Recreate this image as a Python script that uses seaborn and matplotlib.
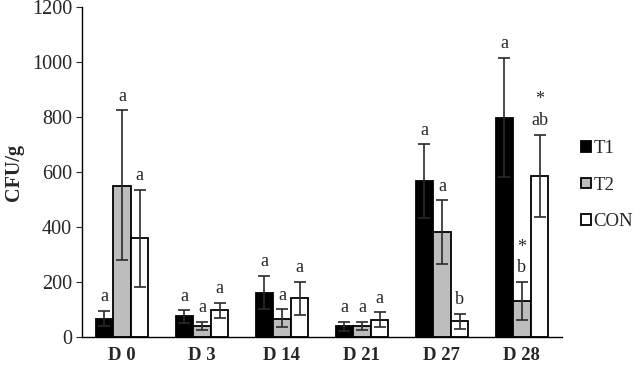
import numpy as np
import pandas as pd
import matplotlib
matplotlib.use('Agg')
import matplotlib.pyplot as plt
import seaborn as sns

# Data
days = ['D 0', 'D 3', 'D 14', 'D 21', 'D 27', 'D 28']
groups = ['T1', 'T2', 'CON']
t1 = [65, 75, 160, 38, 567, 797]
t2 = [550, 40, 65, 40, 380, 130]
con = [360, 97, 140, 62, 57, 585]
# error bar lower / upper ends
t1_lo = [40, 50, 100, 22, 433, 580]
t1_hi = [95, 97, 222, 55, 700, 1015]
t2_lo = [280, 25, 35, 25, 265, 60]
t2_hi = [825, 55, 100, 55, 497, 200]
con_lo = [180, 70, 80, 35, 30, 437]
con_hi = [535, 125, 200, 90, 85, 735]
# significance letters
t1_let = ['a', 'a', 'a', 'a', 'a', 'a']
t2_let = ['a', 'a', 'a', 'a', 'a', '*\nb']
con_let = ['a', 'a', 'a', 'a', 'b', '*\nab']

df = pd.DataFrame({
    'Day': days * 3,
    'Group': [g for g in groups for _ in days],
    'CFU': t1 + t2 + con,
})

sns.set_style('white')
plt.rcParams['font.family'] = ['Liberation Serif', 'DejaVu Serif']

fig = plt.figure(figsize=(6.4, 3.71), dpi=100)
ax = fig.add_axes([0.128, 0.092, 0.75, 0.889])

sns.barplot(data=df, x='Day', y='CFU', hue='Group', order=days, hue_order=groups,
            palette=['black', '#bdbdbd', 'white'], edgecolor='black', linewidth=1.3,
            width=0.66, errorbar=None, ax=ax)

vals = [t1, t2, con]
los = [t1_lo, t2_lo, con_lo]
his = [t1_hi, t2_hi, con_hi]
lets = [t1_let, t2_let, con_let]
bar_conts = list(ax.containers)
for k, cont in enumerate(bar_conts):
    for i, bar in enumerate(cont):
        xc = bar.get_x() + bar.get_width() / 2
        v = vals[k][i]
        ax.errorbar(xc, v, yerr=[[v - los[k][i]], [his[k][i] - v]], fmt='none',
                    ecolor='#2a2a2a', elinewidth=1.2, capsize=4, capthick=1.2)
        ax.text(xc, his[k][i] + 20, lets[k][i], ha='center', va='bottom',
                fontsize=13, linespacing=1.3)

ax.set_ylim(0, 1200)
ax.set_xlim(-0.5, 5.5)
ax.set_yticks(range(0, 1201, 200))
ax.tick_params(axis='y', labelsize=14.5, length=4, direction='out', left=True, pad=3)
ax.tick_params(axis='x', labelsize=13.5, length=0, pad=7)
for lab in ax.get_xticklabels():
    lab.set_fontweight('bold')
ax.set_xlabel('')
ax.set_ylabel('CFU/g', fontsize=14.5, fontweight='bold', labelpad=6)
for s in ['top', 'right']:
    ax.spines[s].set_visible(False)
for s in ['left', 'bottom']:
    ax.spines[s].set_color('black')
    ax.spines[s].set_linewidth(1.0)

ax.legend(loc='center left', bbox_to_anchor=(1.005, 0.46), frameon=False, fontsize=13.5,
          handlelength=0.5, handleheight=0.5, handletextpad=0.15, labelspacing=1.05)

fig.savefig('out.png', dpi=100)
